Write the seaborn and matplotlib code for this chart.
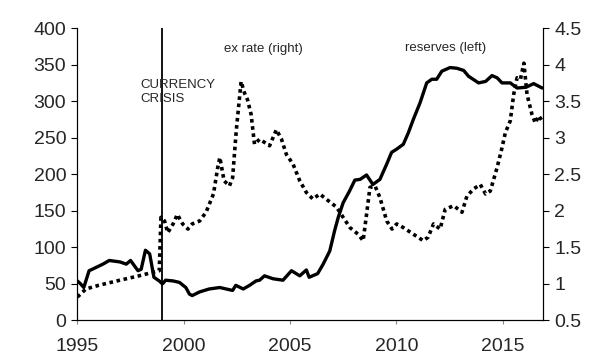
import pandas as pd
import matplotlib
matplotlib.use("Agg")
import matplotlib.pyplot as plt
import seaborn as sns

sns.set_style("ticks")
plt.rcParams['font.family'] = ['Liberation Sans', 'DejaVu Sans']

# reserves (left axis)
res_year = [1995.0, 1995.15, 1995.3, 1995.55, 1995.7, 1996.2, 1996.5, 1997.0, 1997.3, 1997.5,
            1997.85, 1998.0, 1998.2, 1998.4, 1998.6, 1998.85, 1999.0, 1999.15, 1999.5, 1999.8,
            2000.1, 2000.27, 2000.4, 2000.75, 2001.2, 2001.7, 2002.0, 2002.3, 2002.45, 2002.8,
            2003.1, 2003.4, 2003.57, 2003.8, 2004.2, 2004.67, 2005.07, 2005.46, 2005.77, 2005.9,
            2006.3, 2006.56, 2006.87, 2007.1, 2007.27, 2007.5, 2007.8, 2008.05, 2008.3, 2008.6,
            2008.9, 2009.23, 2009.55, 2009.78, 2010.0, 2010.33, 2010.57, 2010.8, 2011.12, 2011.43,
            2011.67, 2011.9, 2012.14, 2012.53, 2012.85, 2013.17, 2013.4, 2013.87, 2014.2, 2014.5,
            2014.74, 2014.97, 2015.36, 2015.68, 2016.1, 2016.46, 2016.86]
reserves = [54, 50, 45, 68, 70, 77, 82, 80, 77, 82,
            68, 70, 96, 91, 59, 54, 50, 55, 54, 52,
            45, 36, 34, 39, 43, 45, 43, 41, 48, 43,
            48, 54, 55, 61, 57, 55, 68, 61, 69, 59,
            64, 77, 95, 123, 141, 161, 177, 192, 193, 199,
            186, 193, 214, 230, 234, 241, 257, 275, 298, 325,
            330, 330, 341, 346, 345, 342, 334, 325, 327, 335,
            332, 325, 325, 318, 319, 324, 318]

# exchange rate (right axis)
ex_year = [1995.0, 1995.4, 1996.0, 1997.0, 1997.9, 1998.85, 1998.93, 1999.1, 1999.25, 1999.5,
           1999.7, 1999.95, 2000.2, 2000.4, 2000.75, 2001.05, 2001.4, 2001.6, 2001.7, 2001.9,
           2002.15, 2002.3, 2002.47, 2002.7, 2002.86, 2003.0, 2003.17, 2003.33, 2003.57, 2004.04,
           2004.36, 2004.6, 2004.83, 2005.14, 2005.46, 2005.77, 2006.08, 2006.4, 2006.7, 2007.19,
           2007.5, 2007.82, 2008.2, 2008.44, 2008.6, 2008.76, 2009.0, 2009.23, 2009.55, 2009.8,
           2010.02, 2010.33, 2010.8, 2011.27, 2011.5, 2011.75, 2012.06, 2012.3, 2012.7, 2013.09,
           2013.32, 2013.64, 2013.95, 2014.2, 2014.42, 2014.74, 2014.97, 2015.13, 2015.36, 2015.52,
           2015.68, 2015.84, 2016.0, 2016.15, 2016.38, 2016.54, 2016.7, 2016.86]
ex_rate = [0.82, 0.93, 0.98, 1.05, 1.11, 1.18, 1.91, 1.86, 1.70, 1.82,
           1.95, 1.82, 1.75, 1.82, 1.86, 1.98, 2.23, 2.59, 2.73, 2.41,
           2.34, 2.45, 3.09, 3.77, 3.61, 3.52, 3.32, 2.91, 2.98, 2.89,
           3.11, 2.98, 2.77, 2.64, 2.41, 2.25, 2.16, 2.23, 2.16, 2.05,
           1.91, 1.77, 1.68, 1.59, 1.95, 2.32, 2.34, 2.18, 1.86, 1.75,
           1.82, 1.77, 1.68, 1.59, 1.64, 1.82, 1.75, 2.02, 2.07, 1.98,
           2.20, 2.30, 2.36, 2.23, 2.27, 2.59, 2.86, 3.07, 3.23, 3.59,
           3.82, 3.80, 4.02, 3.59, 3.32, 3.20, 3.30, 3.23]

crisis_year = 1999
x_ticks = [1995, 2000, 2005, 2010, 2015]

df_res = pd.DataFrame({"year": res_year, "reserves": reserves})
df_ex = pd.DataFrame({"year": ex_year, "ex": ex_rate})

fig, ax = plt.subplots(figsize=(6, 3.6), dpi=100)
fig.subplots_adjust(left=0.129, right=0.905, top=0.922, bottom=0.11)

sns.lineplot(data=df_res, x="year", y="reserves", ax=ax, color="black", lw=2.4)
ax.axvline(crisis_year, ymin=0, ymax=1, color="black", lw=1.3)
ax.set_xlim(1995, 2016.9)
ax.set_ylim(0, 400)
ax.set_yticks(range(0, 401, 50))
ax.set_xticks(x_ticks)
ax.set_xlabel("")
ax.set_ylabel("")
ax.tick_params(axis="y", labelsize=14, length=4, pad=4, color="black")
ax.tick_params(axis="x", labelsize=14, length=3, pad=10, color="#888888")
ax.spines["top"].set_visible(False)

ax2 = ax.twinx()
sns.lineplot(data=df_ex, x="year", y="ex", ax=ax2, color="black", lw=2.6, linestyle=(0, (1, 1)))
ax2.set_ylim(0.5, 4.5)
ax2.set_yticks([0.5, 1, 1.5, 2, 2.5, 3, 3.5, 4, 4.5])
ax2.set_yticklabels(["0.5", "1", "1.5", "2", "2.5", "3", "3.5", "4", "4.5"])
ax2.set_ylabel("")
ax2.tick_params(labelsize=14, length=4, pad=4, color="black")
ax2.spines["top"].set_visible(False)
for a in (ax, ax2):
    for s in a.spines.values():
        s.set_color("black")

ax.text(1997.95, 330, "CURRENCY\nCRISIS", fontsize=9.5, va="top", ha="left", linespacing=1.25)
ax.text(2001.9, 372, "ex rate (right)", fontsize=9.5, va="center", ha="left")
ax.text(2010.4, 373, "reserves (left)", fontsize=9.5, va="center", ha="left")

fig.savefig("out.png", dpi=100)
